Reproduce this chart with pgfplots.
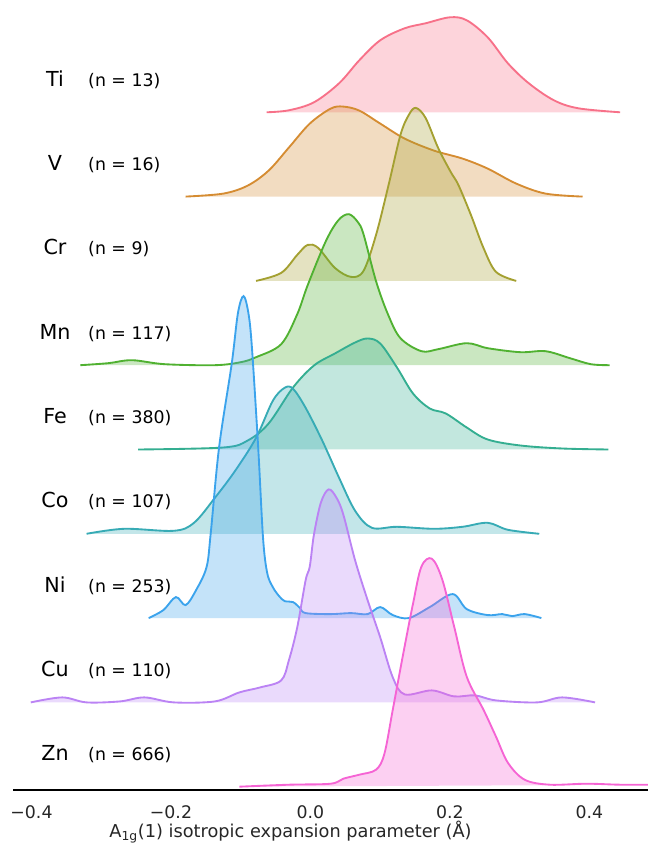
\documentclass[border=0pt]{standalone}
\usepackage{pgfplots}
\pgfplotsset{compat=1.18}
\usepackage{pgfplotstable}
\usepackage{fontspec}
\setmainfont{DejaVu Sans}
\definecolor{cTi}{HTML}{F77189}
\definecolor{cV}{HTML}{D58C32}
\definecolor{cCr}{HTML}{A4A031}
\definecolor{cMn}{HTML}{50B131}
\definecolor{cFe}{HTML}{34AE91}
\definecolor{cCo}{HTML}{37ABB5}
\definecolor{cNi}{HTML}{3BA3EC}
\definecolor{cCu}{HTML}{BB83F4}
\definecolor{cZn}{HTML}{F564D4}

% x = parameter, h = ridge height above its baseline (px)
\pgfplotstableread{
x h
-0.063 0
-0.031 2
0.005 10
0.041 29
0.070 52
0.100 72
0.135 84
0.165 89
0.200 95
0.224 92
0.254 75
0.283 49
0.313 29
0.349 12
0.384 4
0.444 0
}\Ti
\pgfplotstableread{
x h
-0.179 0
-0.125 3
-0.090 11
-0.060 26
-0.031 49
-0.001 73
0.029 88
0.047 90
0.070 86
0.100 73
0.135 58
0.177 46
0.218 38
0.254 28
0.295 13
0.337 3
0.390 0
}\V
\pgfplotstableread{
x h
-0.078 0
-0.042 8
-0.019 26
-0.004 36
0.011 33
0.035 13
0.058 4
0.076 10
0.094 46
0.112 96
0.129 146
0.141 166
0.151 173
0.165 163
0.183 133
0.201 109
0.212 96
0.230 66
0.248 33
0.266 9
0.295 0
}\Cr
\pgfplotstableread{
x h
-0.330 0
-0.290 2
-0.256 5
-0.209 1
-0.137 0
-0.100 3
-0.078 8
-0.042 21
-0.019 51
-0.004 80
0.022 124
0.040 145
0.055 151
0.068 143
0.076 131
0.094 84
0.111 51
0.129 27
0.159 14
0.183 16
0.224 22
0.254 17
0.301 13
0.337 14
0.372 7
0.402 1
0.429 0
}\Mn
\pgfplotstableread{
x h
-0.247 0
-0.125 2
-0.090 9
-0.060 26
-0.025 62
0.005 84
0.035 96
0.064 107
0.082 111
0.100 106
0.124 82
0.147 56
0.171 41
0.194 36
0.224 22
0.254 10
0.301 4
0.361 1
0.427 0
}\Fe
\pgfplotstableread{
x h
-0.321 0
-0.267 5
-0.196 3
-0.167 11
-0.137 36
-0.108 63
-0.078 96
-0.054 133
-0.037 146
-0.025 145
-0.007 126
0.017 93
0.041 56
0.064 23
0.088 6
0.124 7
0.177 5
0.218 7
0.254 11
0.283 4
0.328 0
}\Co
\pgfplotstableread{
x h
-0.232 0
-0.211 8
-0.193 21
-0.179 13
-0.164 28
-0.149 51
-0.143 85
-0.131 171
-0.113 254
-0.104 305
-0.096 322
-0.089 305
-0.084 271
-0.075 171
-0.068 80
-0.062 45
-0.054 31
-0.045 22
-0.037 17
-0.025 16
-0.015 10
-0.007 5
0.029 4
0.058 5
0.082 4
0.100 11
0.118 3
0.141 0
0.171 11
0.204 24
0.224 9
0.254 3
0.275 4
0.289 2
0.307 4
0.331 0
}\Ni
\pgfplotstableread{
x h
-0.401 0
-0.356 5
-0.321 0
-0.273 1
-0.238 5
-0.196 0
-0.137 1
-0.102 10
-0.072 15
-0.042 22
-0.031 42
-0.019 75
-0.007 122
-0.001 136
0.005 168
0.015 200
0.026 213
0.037 205
0.047 188
0.064 142
0.082 102
0.100 65
0.118 25
0.135 8
0.174 12
0.206 6
0.236 7
0.266 2
0.325 0
0.361 5
0.408 0
}\Cu
\pgfplotstableread{
x h
-0.102 0
-0.031 2
0.029 3
0.047 8
0.070 12
0.094 17
0.106 33
0.118 77
0.133 133
0.147 183
0.159 220
0.174 228
0.189 207
0.206 160
0.224 110
0.248 77
0.266 50
0.283 24
0.307 7
0.343 2
0.396 3
0.444 2
0.500 2
}\Zn

\newcommand{\ridge}[3]{%
  \addplot[draw=none, fill=#2, fill opacity=0.3, smooth, tension=0.55]
    table[x=x, y expr=\thisrow{h}+#3] {#1} -- cycle;
  \addplot[draw=#2, line width=1.4pt, smooth, tension=0.55]
    table[x=x, y expr=\thisrow{h}+#3] {#1};
}
\newcommand{\rlabel}[3]{%
  \node[anchor=base, inner sep=0pt, font=\fontsize{15.5}{17}\selectfont] at (axis cs:-0.3663,#1+26) {#2};
  \node[anchor=base west, inner sep=0pt, font=\fontsize{13}{15}\selectfont] at (axis cs:-0.319,#1+26) {(n = #3)};
}

\begin{document}
\begin{tikzpicture}
\begin{axis}[
  scale only axis, width=476.25pt, height=592.5pt,
  xmin=-0.4265, xmax=0.4839, ymin=0, ymax=790,
  axis x line*=bottom, axis y line=none,
  x axis line style={line width=2pt, black},
  xtick={-0.4,-0.2,0,0.2,0.4},
  xticklabels={−0.4,−0.2,0.0,0.2,0.4},
  major tick length=0pt,
  ytick=\empty,
  xticklabel style={font=\fontsize{13}{15}\selectfont, text=black!85, anchor=center, yshift=-16.5pt},
  xlabel={A\textsubscript{1g}(1) isotropic expansion parameter (Å)},
  xlabel style={font=\fontsize{13.3}{15}\selectfont, text=black!85, at={(axis description cs:0.437,0)}, anchor=center, yshift=-31.5pt},
]
\ridge{\Ti}{cTi}{677.7}
\ridge{\V}{cV}{593.4}
\ridge{\Cr}{cCr}{509.1}
\ridge{\Mn}{cMn}{424.8}
\ridge{\Fe}{cFe}{340.5}
\ridge{\Co}{cCo}{256.2}
\ridge{\Ni}{cNi}{171.9}
\ridge{\Cu}{cCu}{87.6}
\ridge{\Zn}{cZn}{3.3}
\rlabel{677.7}{Ti}{13}
\rlabel{593.4}{V}{16}
\rlabel{509.1}{Cr}{9}
\rlabel{424.8}{Mn}{117}
\rlabel{340.5}{Fe}{380}
\rlabel{256.2}{Co}{107}
\rlabel{171.9}{Ni}{253}
\rlabel{87.6}{Cu}{110}
\rlabel{3.3}{Zn}{666}
\end{axis}
\pgfresetboundingbox
\path (current axis.south west) ++(-9.75pt,-41.25pt) rectangle (current axis.north east);
\end{tikzpicture}
\end{document}
